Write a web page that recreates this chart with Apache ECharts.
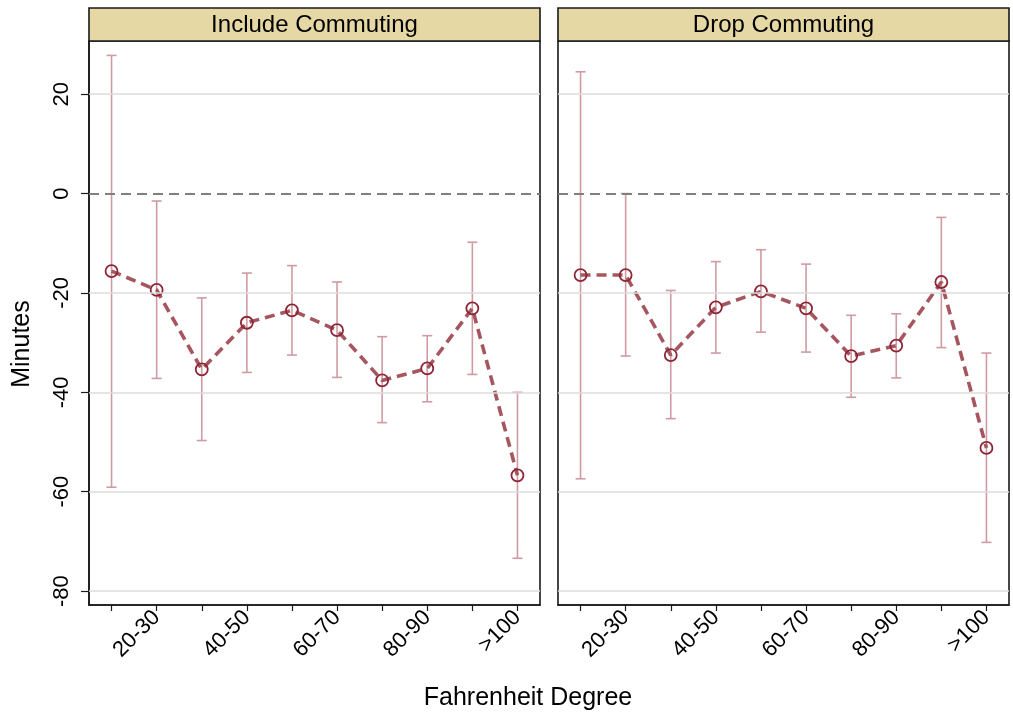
<!DOCTYPE html>
<html>
<head>
<meta charset="utf-8">
<script src="https://cdn.jsdelivr.net/npm/echarts@6/dist/echarts.min.js"></script>
<style>
  html, body { margin: 0; padding: 0; background: #fff; }
  #chart { width: 1013px; height: 717px; }
</style>
</head>
<body>
<div id="chart"></div>
<script>
// Temperature bins (degrees Fahrenheit)
const categories = ['<20', '20-30', '30-40', '40-50', '50-60', '60-70', '70-80', '80-90', '90-100', '>100'];

// Panel titles
const panelTitles = ['Include Commuting', 'Drop Commuting'];

// Point estimates and 95% confidence bounds (minutes)
const includeEst   = [-15.6, -19.4, -35.4, -26.0, -23.5, -27.5, -37.6, -35.2, -23.1, -56.7];
const includeUpper = [ 27.8,  -1.5, -21.0, -16.0, -14.5, -17.8, -28.8, -28.6,  -9.8, -40.0];
const includeLower = [-59.1, -37.2, -49.7, -36.0, -32.5, -37.0, -46.1, -41.9, -36.4, -73.4];

const dropEst   = [-16.4, -16.4, -32.5, -22.9, -19.7, -23.1, -32.7, -30.6, -17.8, -51.2];
const dropUpper = [ 24.5,   0.0, -19.5, -13.7, -11.3, -14.2, -24.5, -24.2,  -4.8, -32.1];
const dropLower = [-57.4, -32.7, -45.3, -32.1, -27.9, -31.9, -41.0, -37.1, -31.0, -70.2];

// Y axis tick values
const yTicks = [-80, -60, -40, -20, 0, 20];

const FONT = 'Liberation Sans, Arial, Helvetica, sans-serif';
const Y_MIN = -82.8, Y_MAX = 30.7;

const panels = [
  { est: includeEst, lo: includeLower, hi: includeUpper },
  { est: dropEst,    lo: dropLower,    hi: dropUpper }
];

const gridBoxes = [
  { left: 89,  top: 41, width: 451, height: 564 },
  { left: 558, top: 41, width: 451, height: 564 }
];

const chart = echarts.init(document.getElementById('chart'), null, { renderer: 'canvas' });

const grids = gridBoxes.map(g => ({
  left: g.left, top: g.top, width: g.width, height: g.height,
  show: true, borderColor: '#1a1a1a', borderWidth: 1.6, backgroundColor: '#fff'
}));

const xAxes = gridBoxes.map((g, i) => ({
  type: 'category', gridIndex: i, data: categories, boundaryGap: true,
  axisLine: { show: true, onZero: false, lineStyle: { color: '#1a1a1a', width: 1.6 } },
  axisTick: { show: true, alignWithLabel: true, interval: 0, length: 6, lineStyle: { color: '#1a1a1a', width: 1.2 } },
  axisLabel: {
    interval: (idx) => idx % 2 === 1,
    rotate: 45, margin: 9, color: '#000', fontSize: 22, fontFamily: FONT
  },
  splitLine: { show: false }
}));

const yAxes = gridBoxes.map((g, i) => ({
  type: 'value', gridIndex: i, min: Y_MIN, max: Y_MAX,
  axisLine: { show: i === 0, onZero: false, lineStyle: { color: '#1a1a1a', width: 1.6 } },
  axisTick: { show: i === 0, customValues: yTicks, length: 8, lineStyle: { color: '#1a1a1a', width: 1.2 } },
  axisLabel: {
    show: i === 0, customValues: yTicks, rotate: 90, margin: 16,
    color: '#000', fontSize: 22, fontFamily: FONT
  },
  splitLine: { show: false }
}));

const series = [];
panels.forEach((p, i) => {
  // horizontal reference lines at the tick values; zero is dashed
  series.push({
    type: 'line', xAxisIndex: i, yAxisIndex: i, data: [], silent: true,
    markLine: {
      silent: true, symbol: ['none', 'none'], label: { show: false }, animation: false,
      data: yTicks.map(v => ({
        yAxis: v,
        lineStyle: v === 0
          ? { color: '#7f7f7f', width: 1.8, type: [10, 6] }
          : { color: '#dcdcdc', width: 1.6, type: 'solid' }
      }))
    },
    z: 1
  });

  // confidence-interval capped spikes
  series.push({
    type: 'custom', xAxisIndex: i, yAxisIndex: i, z: 2,
    data: categories.map((c, k) => [k, p.lo[k], p.hi[k]]),
    renderItem: (params, api) => {
      const x = api.value(0);
      const lo = api.coord([x, api.value(1)]);
      const hi = api.coord([x, api.value(2)]);
      const cap = 5;
      const style = { stroke: '#cf9ba1', lineWidth: 1.6 };
      return {
        type: 'group',
        children: [
          { type: 'line', shape: { x1: lo[0], y1: lo[1], x2: hi[0], y2: hi[1] }, style },
          { type: 'line', shape: { x1: hi[0] - cap, y1: hi[1], x2: hi[0] + cap, y2: hi[1] }, style },
          { type: 'line', shape: { x1: lo[0] - cap, y1: lo[1], x2: lo[0] + cap, y2: lo[1] }, style }
        ]
      };
    }
  });

  // point estimates connected by a dashed line
  series.push({
    type: 'line', xAxisIndex: i, yAxisIndex: i, z: 3,
    data: p.est,
    symbol: 'circle', symbolSize: 12,
    itemStyle: { color: 'rgba(255,255,255,0)', borderColor: '#8c2535', borderWidth: 1.8 },
    lineStyle: { color: '#a5565f', width: 3.6, type: [10, 6] },
    emphasis: { disabled: true }
  });
});

const graphics = [];
gridBoxes.forEach((g, i) => {
  graphics.push({
    type: 'rect', shape: { x: g.left, y: 8, width: g.width, height: g.top - 8 },
    style: { fill: '#e6d8a4', stroke: '#1a1a1a', lineWidth: 1.6 }
  });
  graphics.push({
    type: 'text', x: g.left + g.width / 2, y: 8 + (g.top - 8) / 2 + 1,
    style: {
      text: panelTitles[i], fill: '#000', font: '24px ' + FONT,
      textAlign: 'center', textVerticalAlign: 'middle'
    }
  });
});
graphics.push({
  type: 'text', x: 22, y: 344, rotation: Math.PI / 2,
  style: { text: 'Minutes', fill: '#000', font: '25px ' + FONT, textAlign: 'center', textVerticalAlign: 'middle' }
});
graphics.push({
  type: 'text', x: 528, y: 698,
  style: { text: 'Fahrenheit Degree', fill: '#000', font: '25px ' + FONT, textAlign: 'center', textVerticalAlign: 'middle' }
});

chart.setOption({
  animation: false,
  backgroundColor: '#fff',
  grid: grids,
  xAxis: xAxes,
  yAxis: yAxes,
  series: series,
  graphic: graphics
});
</script>
</body>
</html>
